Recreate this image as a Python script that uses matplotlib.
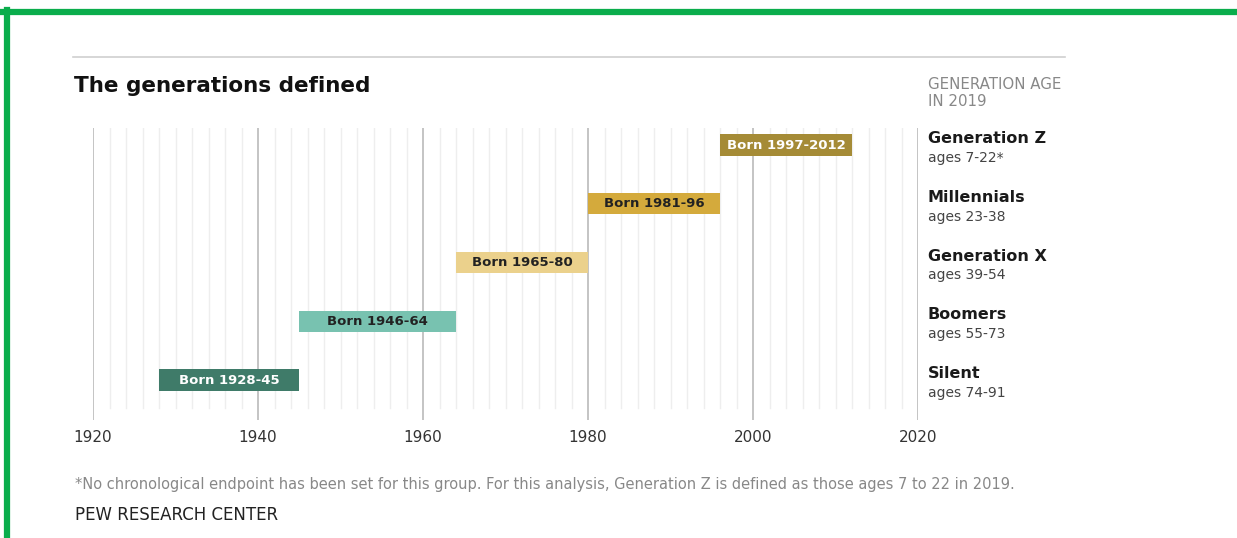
import matplotlib
matplotlib.use("Agg")
import matplotlib.pyplot as plt
from matplotlib.lines import Line2D

# data
generations = ["Silent", "Boomers", "Generation X", "Millennials", "Generation Z"]
ages = ["ages 74-91", "ages 55-73", "ages 39-54", "ages 23-38", "ages 7-22*"]
born = ["Born 1928-45", "Born 1946-64", "Born 1965-80", "Born 1981-96", "Born 1997-2012"]
bar_start = [1928, 1945, 1964, 1980, 1996]
bar_end = [1945, 1964, 1980, 1996, 2012]
years = [1920, 1940, 1960, 1980, 2000, 2020]

colors = ["#3f7b69", "#78c2b0", "#ebd18c", "#d4aa3c", "#a58b36"]
text_colors = ["white", "#222222", "#222222", "#222222", "white"]

W, H = 1237, 538
fig = plt.figure(figsize=(W / 100, H / 100), dpi=100)
fig.patch.set_facecolor("white")

def fx(x):
    return x / W

def fy(y):
    return 1 - y / H

# axes: 1920 at x=93, 2020 at x=918, top 128, bottom 420
ax = fig.add_axes([fx(93), fy(420), fx(918) - fx(93), (420 - 128) / H])
ax.set_xlim(1920, 2020)
ax.set_ylim(-0.68, 4.29)
ax.axis("off")

# grid lines
for yr in range(1920, 2021, 2):
    if yr % 20 == 0:
        ax.axvline(yr, ymin=0, ymax=1, color="#c4c4c4", lw=1.4, zorder=1)
    else:
        ax.axvline(yr, ymin=0.04, ymax=1, color="#eeeeee", lw=1.0, zorder=1)

ypos = list(range(len(generations)))
widths = [e - s for s, e in zip(bar_start, bar_end)]
ax.barh(ypos, widths, left=bar_start, height=0.36, color=colors, zorder=3)
for i in ypos:
    ax.text((bar_start[i] + bar_end[i]) / 2, i, born[i], ha="center", va="center",
            fontsize=9.5, fontweight="bold", color=text_colors[i], family="DejaVu Sans", zorder=4)

# year labels
for yr in years:
    ax.text(yr, -0.68 - 17 / 58.75, str(yr), ha="center", va="center", fontsize=11,
            color="#333333", family="DejaVu Sans")

# right-hand labels
for i in ypos:
    ax.text(2021.2, i + 0.11, generations[i], ha="left", va="center", fontsize=11.5,
            fontweight="bold", color="#1a1a1a", family="DejaVu Sans")
    ax.text(2021.2, i - 0.22, ages[i], ha="left", va="center", fontsize=10,
            color="#444444", family="DejaVu Sans")

# title and header
fig.add_artist(Line2D([fx(73), fx(1065)], [fy(57), fy(57)], color="#d0d0d0", lw=1.2))
fig.text(fx(74), fy(86), "The generations defined", ha="left", va="center",
         fontsize=15.5, fontweight="bold", color="#111111", family="DejaVu Sans")
fig.text(fx(928), fy(93), "GENERATION AGE\nIN 2019", ha="left", va="center",
         fontsize=10.8, color="#888888", family="DejaVu Sans", linespacing=1.2)

# footnote and source
fig.text(fx(75), fy(485), "*No chronological endpoint has been set for this group. For this analysis, "
         "Generation Z is defined as those ages 7 to 22 in 2019.", ha="left", va="center",
         fontsize=10.5, color="#888888", family="Liberation Sans Narrow")
fig.text(fx(75), fy(515), "PEW RESEARCH CENTER", ha="left", va="center",
         fontsize=12, color="#222222", family="Liberation Sans Narrow")

# green frame
fig.add_artist(Line2D([fx(2), fx(1237)], [fy(12), fy(12)], color="#0aad4c", lw=4.5))
fig.add_artist(Line2D([fx(7), fx(7)], [fy(10), fy(538)], color="#0aad4c", lw=4.5))

fig.savefig("out.png", dpi=100)
